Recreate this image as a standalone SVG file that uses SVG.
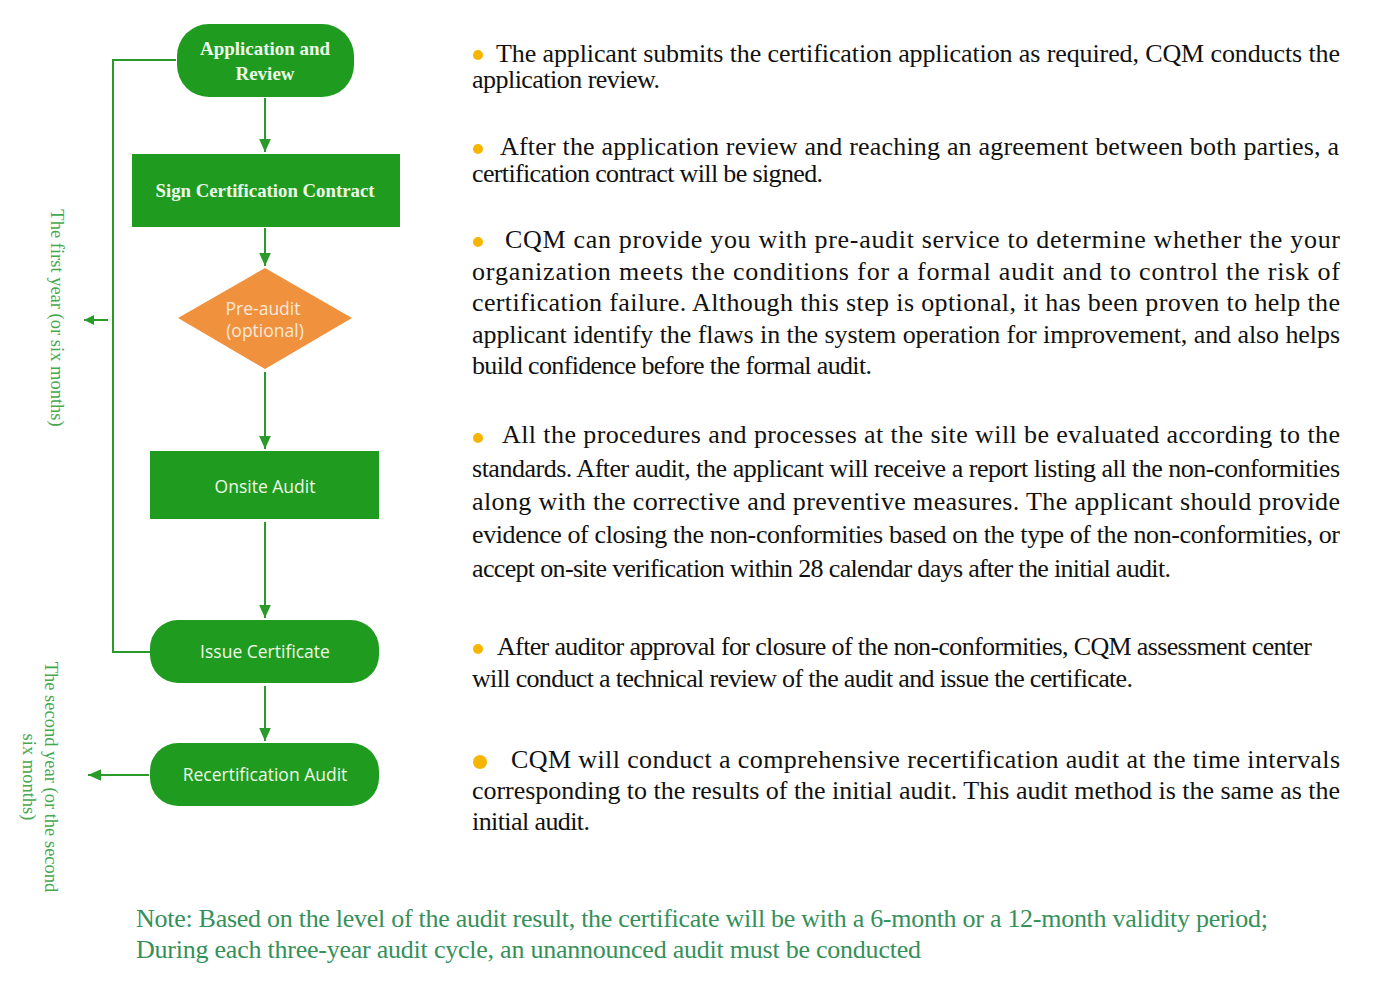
<svg xmlns="http://www.w3.org/2000/svg" width="1376" height="1003" viewBox="0 0 1376 1003">
<defs>
<marker id="ah" viewBox="0 0 10 10" refX="10" refY="5" markerWidth="10" markerHeight="10" markerUnits="userSpaceOnUse" orient="auto">
<path d="M0,0 L10,5 L0,10 Z" fill="#2a9a2a"/>
</marker>
<marker id="ahs" viewBox="0 0 10 10" refX="10" refY="5" markerWidth="13" markerHeight="13" markerUnits="userSpaceOnUse" orient="auto">
<path d="M0,0.5 L10,5 L0,9.5 Z" fill="#2a9a2a"/>
</marker>
<style>
.node{fill:#1f9c1f;}
.dia{fill:#f0913e;}
.ts{font-family:"Liberation Serif","Times New Roman",serif;font-weight:bold;font-size:19px;fill:#eef8e8;text-anchor:middle;}
.tn{font-family:"Open Sans","Noto Sans",sans-serif;font-size:17.5px;fill:#eef8e8;text-anchor:middle;}
.td{font-family:"Open Sans","Noto Sans",sans-serif;font-size:17.5px;fill:#fde9d8;text-anchor:middle;}
.con{stroke:#2a9a2a;stroke-width:2;fill:none;}
.body{font-family:"Liberation Serif","Times New Roman",serif;font-size:26px;fill:#111;}
.lab{font-family:"Liberation Serif","Times New Roman",serif;font-size:18.5px;fill:#45a84f;text-anchor:middle;}
.note{font-family:"Liberation Serif","Times New Roman",serif;font-size:26px;fill:#35905a;}
.bul{fill:#f7b500;}
</style>
</defs>
<rect width="1376" height="1003" fill="#ffffff"/>

<g id="connectors">
<line class="con" x1="265" y1="98" x2="265" y2="152" marker-end="url(#ahs)"/>
<line class="con" x1="265" y1="228" x2="265" y2="266" marker-end="url(#ahs)"/>
<line class="con" x1="265" y1="372" x2="265" y2="449" marker-end="url(#ahs)"/>
<line class="con" x1="265" y1="522" x2="265" y2="618" marker-end="url(#ahs)"/>
<line class="con" x1="265" y1="686" x2="265" y2="741" marker-end="url(#ahs)"/>
<polyline class="con" points="176,60 113,60 113,652 150,652"/>
<line class="con" x1="108" y1="320" x2="84" y2="320" marker-end="url(#ah)"/>
<line class="con" x1="149" y1="775" x2="88" y2="775" marker-end="url(#ahs)"/>
</g>

<g id="node-application">
<rect class="node" x="177" y="24" width="177" height="73" rx="32" ry="32"/>
<text class="ts" x="265" y="55" textLength="130" lengthAdjust="spacingAndGlyphs">Application and</text>
<text class="ts" x="265" y="80">Review</text>
</g>
<g id="node-contract">
<rect class="node" x="132" y="154" width="268" height="73"/>
<text class="ts" x="265" y="197" textLength="219" lengthAdjust="spacingAndGlyphs">Sign Certification Contract</text>
</g>
<g id="node-preaudit">
<polygon class="dia" points="265,268 352,318 265,369 178,318"/>
<text class="td" x="263" y="315">Pre-audit</text>
<text class="td" x="265" y="337">(optional)</text>
</g>
<g id="node-onsite">
<rect class="node" x="150" y="451" width="229" height="68"/>
<text class="tn" x="265" y="493">Onsite Audit</text>
</g>
<g id="node-issue">
<rect class="node" x="150" y="620" width="229" height="63" rx="28" ry="28"/>
<text class="tn" x="265" y="658">Issue Certificate</text>
</g>
<g id="node-recert">
<rect class="node" x="150" y="743" width="229" height="63" rx="28" ry="28"/>
<text class="tn" x="265" y="781">Recertification Audit</text>
</g>

<g id="side-labels">
<text class="lab" transform="translate(51,318) rotate(90)">The first year (or six months)</text>
<text class="lab" transform="translate(45,777) rotate(90)">The second year (or the second</text>
<text class="lab" transform="translate(23,777) rotate(90)">six months)</text>
</g>

<g id="descriptions">
<circle class="bul" cx="478" cy="55" r="5"/>
<text class="body" x="496" y="62" textLength="844" lengthAdjust="spacing">The applicant submits the certification application as required, CQM conducts the</text>
<text class="body" x="472" y="88" textLength="188" lengthAdjust="spacing">application review.</text>

<circle class="bul" cx="478" cy="149" r="5"/>
<text class="body" x="500" y="155" textLength="839" lengthAdjust="spacing">After the application review and reaching an agreement between both parties, a</text>
<text class="body" x="472" y="182" textLength="351" lengthAdjust="spacing">certification contract will be signed.</text>

<circle class="bul" cx="478" cy="242" r="5"/>
<text class="body" x="505" y="248" textLength="835" lengthAdjust="spacing">CQM can provide you with pre-audit service to determine whether the your</text>
<text class="body" x="472" y="280" textLength="868" lengthAdjust="spacing">organization meets the conditions for a formal audit and to control the risk of</text>
<text class="body" x="472" y="311" textLength="868" lengthAdjust="spacing">certification failure. Although this step is optional, it has been proven to help the</text>
<text class="body" x="472" y="343" textLength="868" lengthAdjust="spacing">applicant identify the flaws in the system operation for improvement, and also helps</text>
<text class="body" x="472" y="374" textLength="400" lengthAdjust="spacing">build confidence before the formal audit.</text>

<circle class="bul" cx="478" cy="438" r="5"/>
<text class="body" x="502" y="443" textLength="838" lengthAdjust="spacing">All the procedures and processes at the site will be evaluated according to the</text>
<text class="body" x="472" y="477" textLength="868" lengthAdjust="spacing">standards. After audit, the applicant will receive a report listing all the non-conformities</text>
<text class="body" x="472" y="510" textLength="868" lengthAdjust="spacing">along with the corrective and preventive measures. The applicant should provide</text>
<text class="body" x="472" y="543" textLength="868" lengthAdjust="spacing">evidence of closing the non-conformities based on the type of the non-conformities, or</text>
<text class="body" x="472" y="577" textLength="699" lengthAdjust="spacing">accept on-site verification within 28 calendar days after the initial audit.</text>

<circle class="bul" cx="478" cy="649" r="5"/>
<text class="body" x="497" y="655" textLength="815" lengthAdjust="spacing">After auditor approval for closure of the non-conformities, CQM assessment center</text>
<text class="body" x="472" y="687" textLength="661" lengthAdjust="spacing">will conduct a technical review of the audit and issue the certificate.</text>

<circle class="bul" cx="480" cy="762" r="7"/>
<text class="body" x="511" y="768" textLength="829" lengthAdjust="spacing">CQM will conduct a comprehensive recertification audit at the time intervals</text>
<text class="body" x="472" y="799" textLength="868" lengthAdjust="spacing">corresponding to the results of the initial audit. This audit method is the same as the</text>
<text class="body" x="472" y="830" textLength="118" lengthAdjust="spacing">initial audit.</text>
</g>

<g id="note">
<text class="note" x="136" y="927" textLength="1132" lengthAdjust="spacing">Note: Based on the level of the audit result, the certificate will be with a 6-month or a 12-month validity period;</text>
<text class="note" x="136" y="958" textLength="785" lengthAdjust="spacing">During each three-year audit cycle, an unannounced audit must be conducted</text>
</g>
</svg>
